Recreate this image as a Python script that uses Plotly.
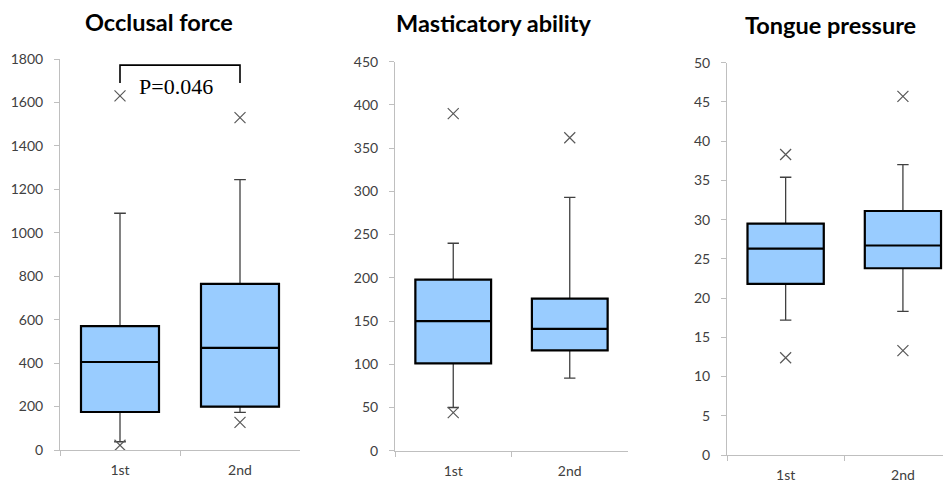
import plotly.graph_objects as go

categories = ["1st", "2nd"]

titles = ["Occlusal force", "Masticatory ability", "Tongue pressure"]

# Occlusal force
occl_q1 = [175, 200]
occl_med = [405, 470]
occl_q3 = [570, 765]
occl_lo = [38, 173]
occl_hi = [1090, 1245]
occl_out_x = ["1st", "1st", "2nd", "2nd"]
occl_out_y = [1630, 22, 1530, 127]

# Masticatory ability
mast_q1 = [101, 116]
mast_med = [150, 141]
mast_q3 = [198, 176]
mast_lo = [50, 84]
mast_hi = [240, 293]
mast_out_x = ["1st", "1st", "2nd"]
mast_out_y = [390, 44, 362]

# Tongue pressure
tong_q1 = [21.8, 23.8]
tong_med = [26.3, 26.7]
tong_q3 = [29.5, 31.1]
tong_lo = [17.2, 18.3]
tong_hi = [35.4, 37.0]
tong_out_x = ["1st", "1st", "2nd", "2nd"]
tong_out_y = [38.3, 12.4, 45.7, 13.3]

y_ranges = [[0, 1800], [0, 450], [0, 50]]
y_dticks = [200, 50, 5]

p_label = "P=0.046"

panels = [
    (occl_q1, occl_med, occl_q3, occl_lo, occl_hi, occl_out_x, occl_out_y),
    (mast_q1, mast_med, mast_q3, mast_lo, mast_hi, mast_out_x, mast_out_y),
    (tong_q1, tong_med, tong_q3, tong_lo, tong_hi, tong_out_x, tong_out_y),
]

# the page body has an 8px default margin; lay out in window pixels
OFF = 8
W, H = 951 - OFF, 486 - OFF
x_dom_px = [(60, 300), (395, 628), (727, 951)]
y_dom_px = [(450, 59), (450.7, 61.7), (455, 62.7)]
x_ranges = [[-0.5, 1.5], [-0.5, 1.5], [-0.5, 1.41]]
title_pos = [(159, 22), (494, 23), (830, 25)]

FILL = "#99CCFF"
WHISK = "#404040"
AXC = "#BFBFBF"
FONT = "Lato"


def px_x(v):
    return (v - OFF) / W


def px_y(v):
    return 1 - (v - OFF) / H


fig = go.Figure()
layout = dict(
    width=W, height=H, margin=dict(l=0, r=0, t=0, b=0, autoexpand=False),
    paper_bgcolor="white", plot_bgcolor="white", showlegend=False,
    boxmode="overlay", annotations=[], shapes=[],
)

for i, (q1, med, q3, lo, hi, ox, oy) in enumerate(panels):
    sfx = "" if i == 0 else str(i + 1)
    xa, ya = "x" + sfx, "y" + sfx
    # whiskers + box (thin)
    fig.add_trace(go.Box(
        x=categories, q1=q1, median=med, q3=q3, lowerfence=lo, upperfence=hi,
        xaxis=xa, yaxis=ya, width=0.65, whiskerwidth=0.15,
        fillcolor=FILL, line=dict(color=WHISK, width=1.3),
        boxpoints=False, hoverinfo="skip",
    ))
    # box outline (thick)
    fig.add_trace(go.Box(
        x=categories, q1=q1, median=med, q3=q3, lowerfence=q1, upperfence=q3,
        xaxis=xa, yaxis=ya, width=0.65, whiskerwidth=0,
        fillcolor=FILL, line=dict(color="black", width=2.2),
        boxpoints=False, hoverinfo="skip",
    ))
    # outliers
    fig.add_trace(go.Scatter(
        x=ox, y=oy, xaxis=xa, yaxis=ya, mode="markers",
        marker=dict(symbol="x-thin-open", size=11, color="#595959",
                    line=dict(color="#595959", width=1.2)),
        hoverinfo="skip",
    ))
    x0, x1 = x_dom_px[i]
    yb, yt = y_dom_px[i]
    layout["xaxis" + sfx] = dict(
        domain=[px_x(x0), min(1.0, px_x(x1))], anchor=ya, type="category",
        categoryorder="array", categoryarray=categories,
        range=x_ranges[i], tickson="boundaries", ticks="outside", ticklen=5,
        tickcolor=AXC, showline=True, linecolor=AXC, linewidth=1,
        showgrid=False, zeroline=False, fixedrange=True, automargin=False,
        tickfont=dict(family=FONT, size=14, color="#404040"),
        ticklabelstandoff=7,
    )
    layout["yaxis" + sfx] = dict(
        domain=[px_y(yb), px_y(yt)], anchor=xa,
        range=y_ranges[i], dtick=y_dticks[i], tick0=0,
        ticks="outside", ticklen=5, tickcolor=AXC,
        showline=True, linecolor=AXC, linewidth=1,
        showgrid=False, zeroline=False, fixedrange=True, automargin=False,
        tickfont=dict(family=FONT, size=14, color="#404040"),
        ticklabelstandoff=8,
    )
    tx, ty = title_pos[i]
    layout["annotations"].append(dict(
        text="<b>" + titles[i] + "</b>", x=px_x(tx), y=px_y(ty),
        xref="paper", yref="paper", xanchor="center", yanchor="middle",
        showarrow=False, font=dict(family=FONT, size=23.5, color="black"),
    ))

# significance bracket on the first panel
layout["shapes"].append(dict(
    type="path", xref="x", yref="y",
    path="M 0,1690 L 0,1772 L 1,1772 L 1,1690",
    line=dict(color="black", width=1.6),
))
layout["annotations"].append(dict(
    text=p_label, x=0.47, y=1672, xref="x", yref="y",
    xanchor="center", yanchor="middle", showarrow=False,
    font=dict(family="Liberation Serif", size=22, color="black"),
))

fig.update_layout(**layout)
fig.write_html("out.html")
